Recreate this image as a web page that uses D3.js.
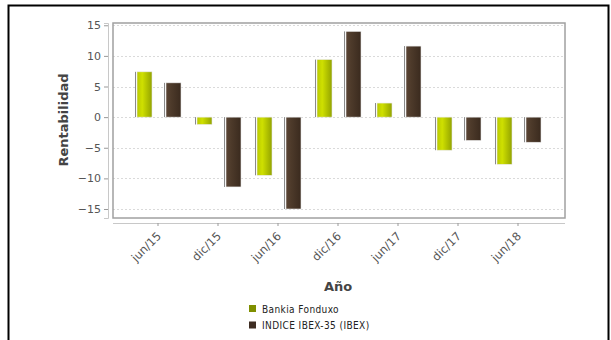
<!DOCTYPE html>
<html>
<head>
<meta charset="utf-8">
<script src="https://cdn.jsdelivr.net/npm/d3@7"></script>
<style>
html,body{margin:0;padding:0;background:#fff;}
svg{display:block;}
</style>
</head>
<body>
<svg id="chart" width="611" height="340"></svg>
<script>
const categories = ["jun/15","dic/15","jun/16","dic/16","jun/17","dic/17","jun/18"];
const seriesNames = ["Bankia Fonduxo","INDICE IBEX-35 (IBEX)"];
const fonduxo = [7.4, -1.2, -9.5, 9.4, 2.3, -5.4, -7.7];
const ibex = [5.6, -11.4, -15.0, 14.0, 11.6, -3.8, -4.1];
const yTicks = [-15, -10, -5, 0, 5, 10, 15];
const legendColors = ["#7f8f00", "#3e2d22"];

const svg = d3.select("#chart");
const defs = svg.append("defs");

const g1 = defs.append("linearGradient").attr("id","gGreen").attr("x1","0").attr("x2","1").attr("y1","0").attr("y2","0");
g1.append("stop").attr("offset","0%").attr("stop-color","#b9c900");
g1.append("stop").attr("offset","35%").attr("stop-color","#cfe000");
g1.append("stop").attr("offset","100%").attr("stop-color","#93a300");
const g2 = defs.append("linearGradient").attr("id","gBrown").attr("x1","0").attr("x2","1").attr("y1","0").attr("y2","0");
g2.append("stop").attr("offset","0%").attr("stop-color","#5a4434");
g2.append("stop").attr("offset","35%").attr("stop-color","#4d3a2a");
g2.append("stop").attr("offset","100%").attr("stop-color","#3a2a1e");
const fills = ["url(#gGreen)","url(#gBrown)"];

// outer border
svg.append("rect").attr("x",8.5).attr("y",5.5).attr("width",600).attr("height",345)
  .attr("fill","none").attr("stroke","#000").attr("stroke-width",2);

const plot = {left:113, right:565, top:23, bottom:218};
const y = d3.scaleLinear().domain([-16.47, 15.37]).range([plot.bottom, plot.top]);
const x = d3.scaleBand().domain(categories).range([128, 548]).padding(0);
const xInner = d3.scaleBand().domain(seriesNames).range([-23, 23]).paddingInner(0.414).paddingOuter(0);

// gridlines
svg.append("g").selectAll("line").data(yTicks).join("line")
  .attr("x1",plot.left).attr("x2",plot.right)
  .attr("y1",d=>Math.round(y(d))+0.5).attr("y2",d=>Math.round(y(d))+0.5)
  .attr("stroke","#dadada").attr("stroke-width",1).attr("stroke-dasharray","2,2");

// plot frame
svg.append("rect").attr("x",plot.left).attr("y",plot.top)
  .attr("width",plot.right-plot.left).attr("height",plot.bottom-plot.top)
  .attr("fill","none").attr("stroke","#a0a0a0").attr("stroke-width",1.5);

// bars
const data = [fonduxo, ibex];
data.forEach((vals, si) => {
  const gs = svg.append("g");
  vals.forEach((v, i) => {
    const bx = x(categories[i]) + x.bandwidth()/2 + xInner(seriesNames[si]);
    const bw = xInner.bandwidth();
    const y0 = y(0), y1 = y(v);
    const top = Math.min(y0,y1), h = Math.abs(y1-y0);
    gs.append("rect").attr("x",bx).attr("y",top).attr("width",1).attr("height",h).attr("fill","#8a8a8a");
    gs.append("rect").attr("x",bx+1).attr("y",top).attr("width",1.2).attr("height",h).attr("fill","#ffffff");
    gs.append("rect").attr("x",bx+2).attr("y",top).attr("width",bw-2).attr("height",h)
      .attr("fill",fills[si]).attr("stroke","#e8e8e8").attr("stroke-width",0.6);
  });
});

// y axis
const yAxis = d3.axisLeft(y).tickValues(yTicks).tickSize(4).tickPadding(3).tickFormat(d=>d<0?"\u2212"+Math.abs(d):d);
const ya = svg.append("g").attr("transform","translate(108,0)").call(yAxis);
ya.select(".domain").attr("stroke","#c8c8c8");
ya.selectAll(".tick line").attr("stroke","#999");
ya.selectAll("text").attr("fill","#555").style("font-family","DejaVu Sans").style("font-size","11px");

// x axis
const xAxis = d3.axisBottom(x).tickSize(3).tickSizeOuter(0);
const xa = svg.append("g").attr("transform","translate(0,223)").call(xAxis);
xa.select(".domain").attr("stroke","#c8c8c8").attr("d",`M${plot.left},0.5H${plot.right}`);
xa.selectAll(".tick line").attr("stroke","#999");
xa.selectAll("text").attr("fill","#555").style("font-family","DejaVu Sans").style("font-size","11.5px")
  .attr("text-anchor","end").attr("dy","0.35em").attr("y",0)
  .attr("transform","translate(1,11) rotate(-45)");

// axis titles
svg.append("text").attr("transform","translate(68,120) rotate(-90)").attr("text-anchor","middle")
  .style("font-family","DejaVu Sans").style("font-weight","bold").style("font-size","13px").attr("fill","#444")
  .text("Rentabilidad");
svg.append("text").attr("x",338).attr("y",291).attr("text-anchor","middle")
  .style("font-family","DejaVu Sans").style("font-weight","bold").style("font-size","13px").attr("fill","#444")
  .text("Año");

// legend
const leg = svg.append("g");
seriesNames.forEach((n, i) => {
  const yy = 305 + i*16.5;
  leg.append("rect").attr("x",249).attr("y",yy).attr("width",7).attr("height",7).attr("fill",legendColors[i]);
  leg.append("text").attr("x",262).attr("y",yy+7.5).text(n)
    .style("font-family","DejaVu Sans Condensed").style("font-size","10px").attr("fill","#222")
    .style("letter-spacing","0.4px");
});
</script>
</body>
</html>
